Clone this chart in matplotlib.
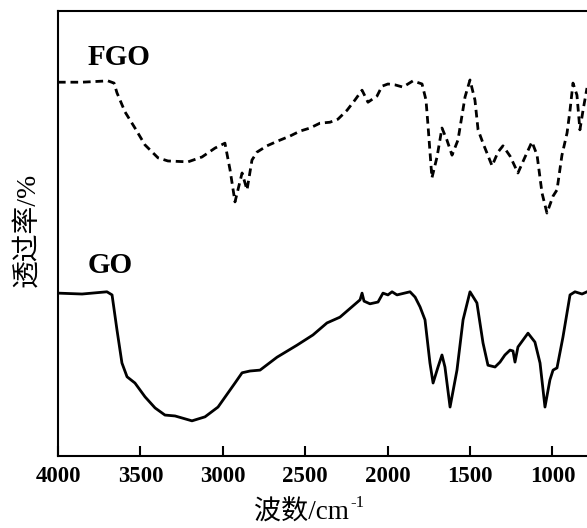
import numpy as np
import matplotlib.pyplot as plt

plt.rcParams['lines.scale_dashes'] = False

# FGO spectrum (dashed), wavenumber / cm-1 and transmittance / %
fgo_wn = [4000, 3854, 3697, 3660, 3642, 3593, 3533, 3472, 3393, 3333, 3211, 3126,
          3047, 2987, 2956, 2926, 2883, 2853, 2823, 2792, 2732, 2665, 2592, 2532,
          2471, 2410, 2350, 2301, 2246, 2198, 2155, 2119, 2064, 2034, 1998, 1955,
          1907, 1846, 1791, 1767, 1755, 1731, 1700, 1670, 1640, 1609, 1573, 1530,
          1500, 1470, 1451, 1421, 1366, 1330, 1300, 1257, 1209, 1166, 1124, 1093,
          1063, 1033, 996, 972, 942, 911, 893, 875, 851, 833, 814, 790]
fgo_t = [84.0, 84.0, 84.3, 83.8, 81.6, 77.3, 73.7, 69.9, 67.0, 66.3, 66.1, 67.2,
         69.2, 70.3, 64.3, 57.1, 63.6, 59.8, 66.5, 68.3, 69.7, 70.8, 71.9, 73.0,
         73.7, 74.8, 75.0, 75.7, 77.7, 80.0, 82.2, 79.5, 80.9, 83.1, 83.6, 83.4,
         82.9, 84.3, 83.6, 80.0, 74.4, 62.5, 67.2, 73.7, 71.0, 67.6, 71.0, 80.7,
         84.5, 80.0, 73.3, 70.3, 65.2, 68.3, 69.7, 67.4, 63.6, 67.2, 70.6, 67.6,
         59.1, 54.6, 58.4, 59.8, 67.6, 72.6, 77.7, 83.8, 81.1, 73.3, 77.7, 82.7]

# GO spectrum (solid)
go_wn = [4000, 3854, 3703, 3672, 3642, 3612, 3581, 3533, 3472, 3411, 3351, 3290,
         3187, 3108, 3029, 2926, 2883, 2835, 2774, 2671, 2550, 2453, 2368, 2289,
         2167, 2155, 2143, 2107, 2058, 2028, 1998, 1973, 1943, 1864, 1833, 1803,
         1773, 1743, 1724, 1694, 1670, 1652, 1621, 1579, 1542, 1500, 1458, 1421,
         1391, 1348, 1318, 1288, 1257, 1239, 1227, 1209, 1148, 1106, 1075, 1045,
         1015, 996, 972, 936, 893, 863, 820, 790]
go_t = [36.6, 36.4, 36.9, 36.2, 28.3, 20.9, 17.8, 16.4, 13.3, 10.8, 9.2, 9.0,
        7.9, 8.8, 11.0, 16.4, 18.7, 19.1, 19.3, 22.2, 24.9, 27.2, 29.9, 31.2,
        35.1, 36.6, 34.8, 34.2, 34.6, 36.6, 36.2, 36.9, 36.2, 36.9, 35.7, 33.5,
        30.6, 20.9, 16.4, 20.0, 22.7, 20.0, 11.0, 19.3, 30.6, 36.9, 34.4, 25.4,
        20.4, 20.0, 21.1, 22.7, 23.8, 23.6, 21.1, 24.5, 27.6, 25.6, 20.9, 11.0,
        17.1, 19.3, 19.8, 26.7, 36.2, 36.9, 36.4, 36.9]

xticks = [4000, 3500, 3000, 2500, 2000, 1500, 1000]
serif = ['Liberation Serif', 'Noto Sans CJK SC']

fig = plt.figure(figsize=(5.87, 5.28), dpi=100)
ax = fig.add_axes([58/587, 72/528, 1 - 58/587, 445/528])

ax.plot(fgo_wn, fgo_t, color='black', lw=2.0, ls=(0, (5.5, 3.5)))
ax.plot(go_wn, go_t, color='black', lw=2.0)

ax.set_xlim(4000, 790)
ax.set_ylim(0, 100)
ax.set_xticks(xticks)
ax.set_yticks([])
ax.spines['right'].set_visible(False)
for s in ['left', 'top', 'bottom']:
    ax.spines[s].set_linewidth(1.5)
ax.tick_params(axis='x', direction='in', length=7, width=1.5, pad=7)
for lab in ax.get_xticklabels():
    lab.set_fontfamily('Liberation Serif')
    lab.set_fontweight('bold')
    lab.set_fontsize(16.5)

ax.text(3818, 87.9, 'FGO', fontfamily='Liberation Serif', fontweight='bold',
        fontsize=21, va='baseline')
ax.text(3818, 41.1, 'GO', fontfamily='Liberation Serif', fontweight='bold',
        fontsize=21, va='baseline')

fig.text(28/587, 1 - 230/528, '透过率/%', rotation=90, family=serif,
         fontsize=20, ha='center', va='center')

fig.text(349/587, 1 - 513/528, '波数/cm', family=serif, fontsize=19.5,
         ha='right', va='center')
fig.text(350/587, 1 - 503/528, '-1', family=serif, fontsize=12,
         ha='left', va='center')

fig.savefig('out.png', dpi=100, facecolor='white')
